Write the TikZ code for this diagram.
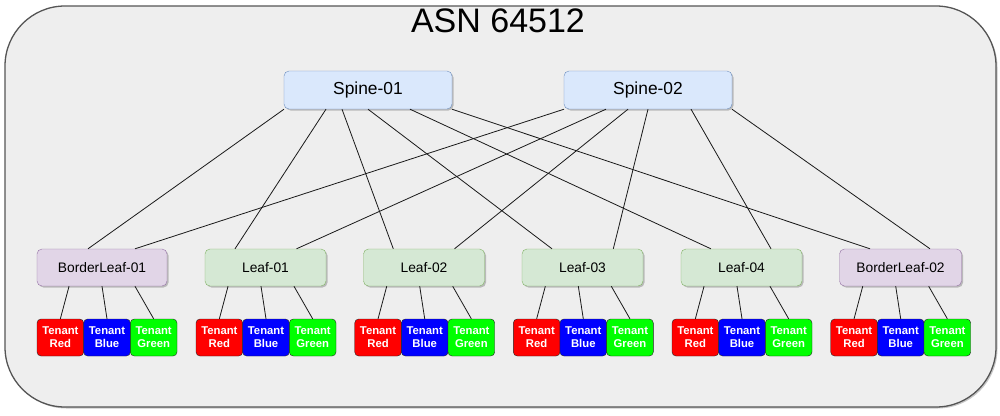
\documentclass[tikz,border=0pt]{standalone}
\usepackage{fontspec}
\setmainfont{Liberation Sans}
\usetikzlibrary{shadows,calc}
\definecolor{outerfill}{HTML}{EEEEEE}
\definecolor{outerdraw}{HTML}{555555}
\definecolor{spinefill}{HTML}{DAE8FC}
\definecolor{spinedraw}{HTML}{6C8EBF}
\definecolor{leaffill}{HTML}{D5E8D4}
\definecolor{leafdraw}{HTML}{82B366}
\definecolor{borderfill}{HTML}{E1D5E7}
\definecolor{borderdraw}{HTML}{9673A6}
\definecolor{tred}{HTML}{FF0000}
\definecolor{tblue}{HTML}{0000FF}
\definecolor{tgreen}{HTML}{00FF00}
\tikzset{
  nshadow/.style={drop shadow={shadow xshift=1.5pt, shadow yshift=-1.5pt, opacity=0.22, fill=black}},
  spinebox/.style={draw=spinedraw, fill=spinefill, rounded corners=5pt, minimum width=168pt, minimum height=38pt, inner sep=0pt, font=\fontsize{17.4}{20}\selectfont, nshadow},
  leafbox/.style={draw=leafdraw, fill=leaffill, rounded corners=5pt, minimum width=121pt, minimum height=37pt, inner sep=0pt, font=\fontsize{13.8}{16}\selectfont, nshadow},
  borderbox/.style={leafbox, draw=borderdraw, fill=borderfill},
  tenantbox/.style={draw=black!85, rounded corners=4pt, minimum width=46.7pt, minimum height=37pt, inner sep=0pt, align=center, text=white, font=\fontsize{11.3}{13.2}\selectfont\bfseries},
  link/.style={draw=black!90, line width=0.8pt},
}
\begin{document}
\begin{tikzpicture}[x=1pt,y=-1pt]
\useasboundingbox (0,0) rectangle (1000,415);
\node[draw=outerdraw, fill=outerfill, line width=1.3pt, rounded corners=60pt, minimum width=991pt, minimum height=401pt, inner sep=0pt, nshadow] (outer) at (500.5,206.5) {};
\node[font=\fontsize{34}{38}\selectfont] (title) at (498,20.5) {ASN 64512};

\node[spinebox] (S1) at (368,90) {Spine-01};
\node[spinebox] (S2) at (648,90) {Spine-02};

\node[borderbox, minimum width=130pt] (BL1) at (102,267.5) {BorderLeaf-01};
\node[leafbox] (L1) at (265.5,267.5) {Leaf-01};
\node[leafbox] (L2) at (424,267.5) {Leaf-02};
\node[leafbox] (L3) at (582.5,267.5) {Leaf-03};
\node[leafbox] (L4) at (741.5,267.5) {Leaf-04};
\node[borderbox, minimum width=122pt] (BL2) at (900.5,267.5) {BorderLeaf-02};

% spine links
\draw[link] ([xshift=-84pt]S1.south) -- ([xshift=-14pt]BL1.north);
\draw[link] ([xshift=-42pt]S1.south) -- ([xshift=-30.5pt]L1.north);
\draw[link] ([xshift=-26pt]S1.south) -- ([xshift=-30.7pt]L2.north);
\draw[link] ([xshift=0pt]S1.south) -- ([xshift=-30.5pt]L3.north);
\draw[link] ([xshift=42pt]S1.south) -- ([xshift=-30.6pt]L4.north);
\draw[link] ([xshift=84pt]S1.south) -- ([xshift=-30.5pt]BL2.north);

\draw[link] ([xshift=-84pt]S2.south) -- ([xshift=33pt]BL1.north);
\draw[link] ([xshift=-42pt]S2.south) -- ([xshift=31pt]L1.north);
\draw[link] ([xshift=-20pt]S2.south) -- ([xshift=30.5pt]L2.north);
\draw[link] ([xshift=0pt]S2.south) -- ([xshift=30.8pt]L3.north);
\draw[link] ([xshift=43pt]S2.south) -- ([xshift=29.5pt]L4.north);
\draw[link] ([xshift=84pt]S2.south) -- ([xshift=29.5pt]BL2.north);

% tenants
\foreach \leaf/\gx [count=\i] in {BL1/37, L1/196, L2/354.7, L3/513.3, L4/672, BL2/830.7}{
  \node[tenantbox, fill=tred] (tr\i) at (\gx+23.35,337.5) {Tenant\\Red};
  \node[tenantbox, fill=tblue] (tb\i) at (\gx+70,337.5) {Tenant\\Blue};
  \node[tenantbox, fill=tgreen] (tg\i) at (\gx+116.65,337.5) {Tenant\\Green};
  \draw[link] ([xshift=8.7pt]tr\i.north |- \leaf.south) -- (tr\i.north);
  \draw[link] ([xshift=-5pt]tb\i.north |- \leaf.south) -- (tb\i.north);
  \draw[link] ([xshift=-18.7pt]tg\i.north |- \leaf.south) -- (tg\i.north);
}
\end{tikzpicture}
\end{document}
